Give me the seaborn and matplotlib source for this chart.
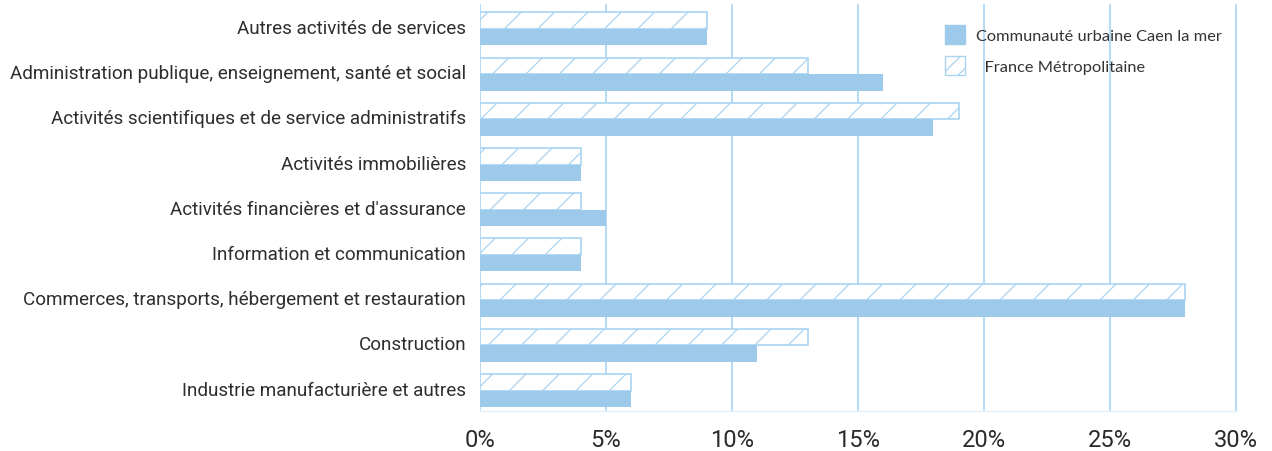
import matplotlib
matplotlib.use("Agg")
import matplotlib.pyplot as plt
import matplotlib.transforms as mtransforms
import seaborn as sns
import pandas as pd
from matplotlib.patches import Patch

# secteurs d'activité (ordre du haut vers le bas)
secteurs = [
    "Autres activités de services",
    "Administration publique, enseignement, santé et social",
    "Activités scientifiques et de service administratifs",
    "Activités immobilières",
    "Activités financières et d'assurance",
    "Information et communication",
    "Commerces, transports, hébergement et restauration",
    "Construction",
    "Industrie manufacturière et autres",
]
caen = [9, 16, 18, 4, 5, 4, 28, 11, 6]
france = [9, 13, 19, 4, 4, 4, 28, 13, 6]
ticks = [0, 5, 10, 15, 20, 25, 30]

serie_caen = "Communauté urbaine Caen la mer"
serie_france = "France Métropolitaine"

df = pd.DataFrame({
    "secteur": secteurs * 2,
    "part": france + caen,
    "serie": [serie_france] * len(secteurs) + [serie_caen] * len(secteurs),
})

bleu = "#9dcaea"
bleu_clair = "#a9d4f2"

sns.set_theme(style="white")
plt.rcParams["font.family"] = ["Roboto", "DejaVu Sans"]
plt.rcParams["hatch.linewidth"] = 0.9

fig = plt.figure(figsize=(12.72, 4.52), dpi=100)
ax = fig.add_axes([0.3774, 0.0885, 0.5951, 0.9005])

sns.barplot(data=df, y="secteur", x="part", hue="serie",
            hue_order=[serie_france, serie_caen], order=secteurs,
            orient="h", width=0.73, ax=ax, legend=False,
            palette=[bleu, bleu], saturation=1)

# barres France : hachurées
for bar in ax.containers[0]:
    bar.set_facecolor("white")
    bar.set_edgecolor(bleu_clair)
    bar.set_hatch("/")
    bar.set_linewidth(1.2)
for bar in ax.containers[1]:
    bar.set_linewidth(0)

ax.set_xlim(0, 30.05)
ax.set_ylim(8.45, -0.55)
ax.set_xticks(ticks)
ax.set_xticklabels([f"{t}%" for t in ticks], fontsize=17, color="#2a2a2a")
ax.tick_params(axis="y", labelsize=13.6, labelcolor="#2e2e2e", length=0, pad=10)
ax.tick_params(axis="x", length=0, pad=12)
# libellés légèrement au-dessus du centre des barres
decal = mtransforms.ScaledTranslation(0, 0.03, fig.dpi_scale_trans)
for lab in ax.get_yticklabels():
    lab.set_transform(lab.get_transform() + decal)
ax.set_xlabel("")
ax.set_ylabel("")

ax.xaxis.grid(True, color=bleu_clair, linewidth=1.2)
ax.set_axisbelow(True)
for s in ["top", "right", "left"]:
    ax.spines[s].set_visible(False)
ax.spines["bottom"].set_color("#e3f0fa")
ax.spines["bottom"].set_linewidth(1)

handles = [
    Patch(facecolor=bleu, edgecolor=bleu, label=serie_caen),
    Patch(facecolor="white", edgecolor=bleu_clair, hatch="//", label="  " + serie_france),
]
leg = ax.legend(handles=handles, loc="upper right", bbox_to_anchor=(1.0, 0.985),
                frameon=False, handlelength=1.2, handleheight=1.4,
                handletextpad=0.7, labelspacing=0.75,
                prop={"family": ["Lato", "DejaVu Sans"], "size": 11.8})
for t in leg.get_texts():
    t.set_color("#333333")

fig.savefig("out.png", dpi=100)
